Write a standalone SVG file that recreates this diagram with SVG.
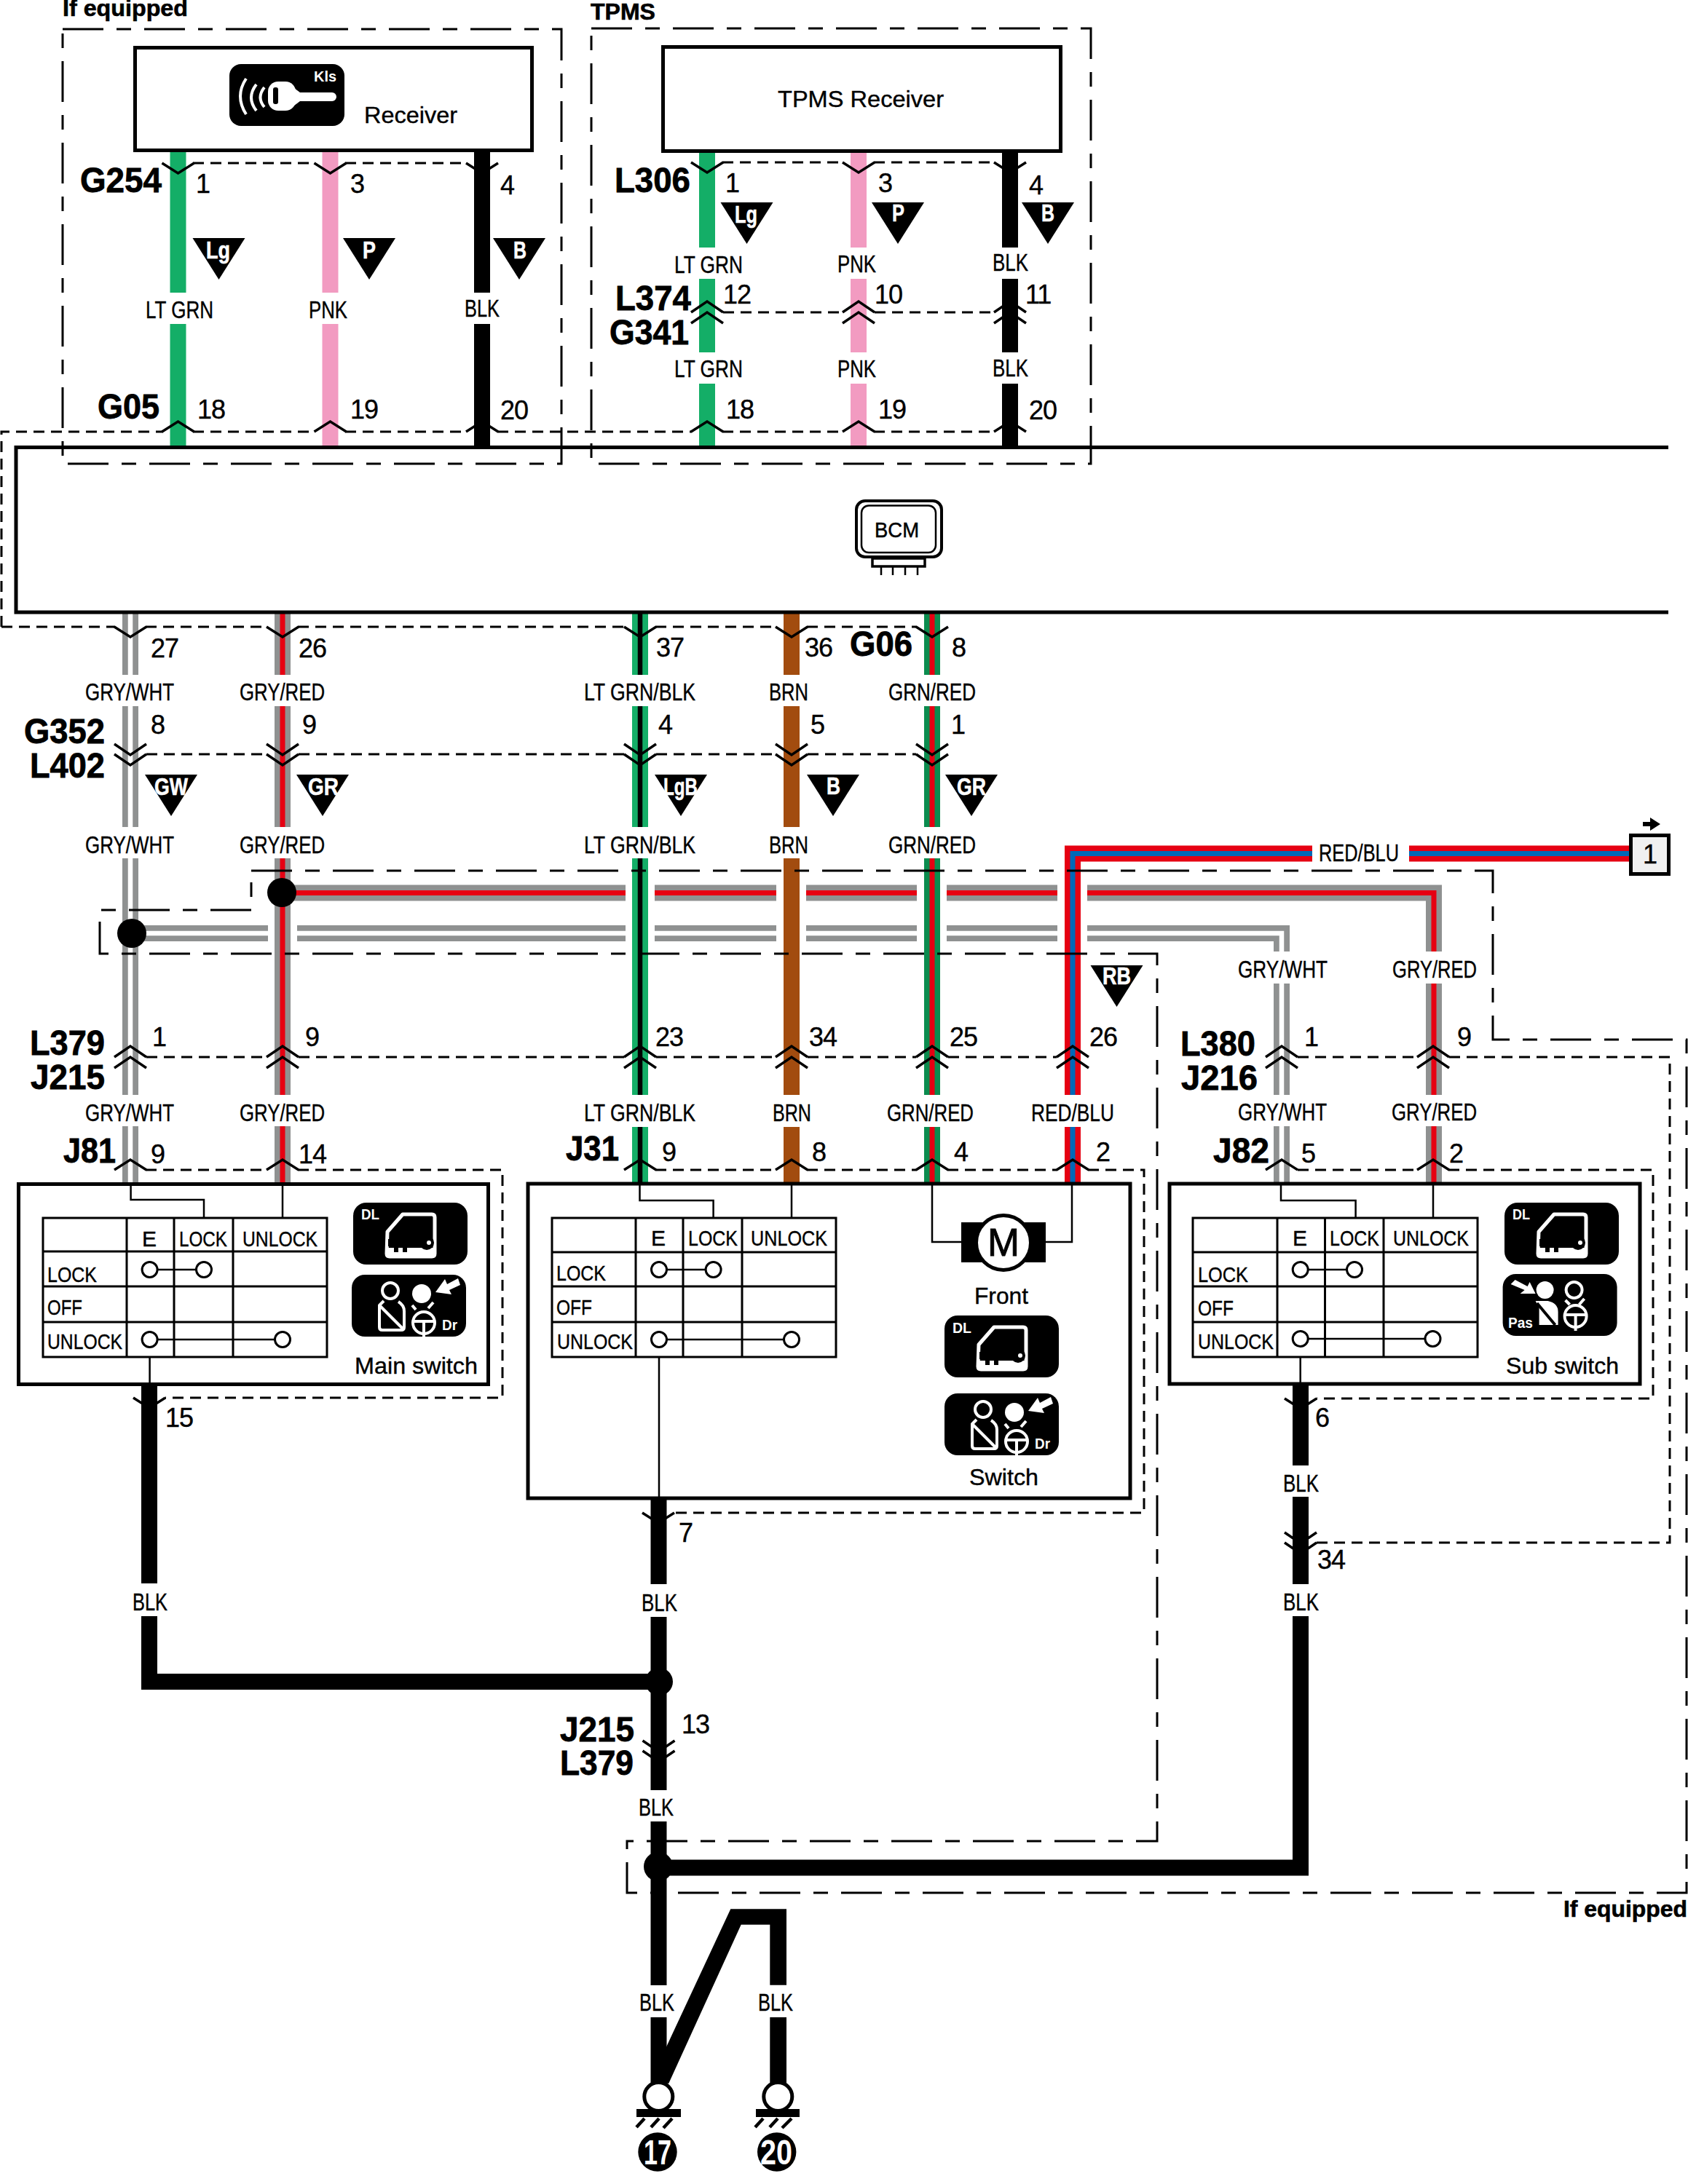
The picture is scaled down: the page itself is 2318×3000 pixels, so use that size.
<svg xmlns="http://www.w3.org/2000/svg" xmlns:xlink="http://www.w3.org/1999/xlink" width="2318" height="3000" viewBox="0 0 2318 3000">
<style>
text{font-family:"Liberation Sans",Arial,sans-serif;fill:#000}
.l{font-size:33px;stroke:#000;stroke-width:.4}
.n{font-size:36px;letter-spacing:-1px;stroke:#000;stroke-width:.4}
.c{font-size:30px;stroke:#000;stroke-width:.4}
.s{font-size:32px;stroke:#000;stroke-width:.4}
.b{font-size:48px;font-weight:700;stroke:#000;stroke-width:.8}
.h{font-size:31px;font-weight:700;stroke:#000;stroke-width:.6}
.w{font-size:34px;font-weight:700;fill:#fff;stroke:#fff;stroke-width:.6}
.i{font-size:20px;font-weight:700;fill:#fff}
.wire{fill:none;stroke-linejoin:miter;stroke-linecap:butt}
.lg{stroke:#14ae67;stroke-width:22}
.pk{stroke:#f29bc1;stroke-width:22}
.bk{stroke:#000;stroke-width:22}
.gy{stroke:#8f9191;stroke-width:22}
.wh{stroke:#fff;stroke-width:6.5}
.rd{stroke:#e60012;stroke-width:7}
.rd2{stroke:#e60012;stroke-width:22}
.bl{stroke:#0068b7;stroke-width:7}
.bn{stroke:#a24c0f;stroke-width:22}
.gn{stroke:#0b8c4f;stroke-width:22}
.k6{stroke:#000;stroke-width:6.5}
.dl{fill:none;stroke:#000;stroke-width:3;stroke-dasharray:15 9}
.db{fill:none;stroke:#000;stroke-width:3;stroke-dasharray:56 18 20 18}
.ch{fill:none;stroke:#000;stroke-width:3.5}
.box{fill:#fff;stroke:#000;stroke-width:5}
.tb{fill:none;stroke:#000;stroke-width:3}
.th{fill:none;stroke:#000;stroke-width:2.5}
.cc{fill:#fff;stroke:#000;stroke-width:3}
.ic{fill:#000}
.wl{fill:none;stroke:#fff;stroke-width:4}
.wf{fill:#fff}
.hb{fill:none;stroke:#000;stroke-width:4.5}
</style>
<defs>
<path id="cu" class="ch" d="M-22 0L0 -14L22 0"/>
<path id="cd" class="ch" d="M-22 0L0 14L22 0"/>
<path id="cuu" class="ch" d="M-22 0L0 -15L22 0M-22 15L0 0L22 15"/>
<path id="cdd" class="ch" d="M-22 -14L0 1L22 -14M-22 0L0 15L22 0"/>
<path id="tri" d="M-36 0H36L0 57Z"/>
<g id="dlicon">
<rect class="ic" width="157" height="85" rx="18"/>
<path class="ic" style="stroke:#fff;stroke-width:5;stroke-linejoin:round" d="M47 40L68 16H108Q112 16 112 20V70Q112 74 108 74H50Q46 74 46 70Z"/>
<rect class="wf" x="46" y="62" width="66" height="11"/>
<path class="ic" d="M48 50H95V60H74V68H68V60H62V68H56V60H48Z"/>
<circle class="ic" cx="101" cy="55" r="10"/>
<circle class="wf" cx="104" cy="55" r="3"/>
</g>
<g id="wheel">
<circle class="wl" r="15"/>
<path class="wl" d="M-14 -2H14M0 -2V20"/>
</g>
<g id="dricon">
<rect class="ic" width="157" height="85" rx="18"/>
<circle class="wl" cx="53" cy="22" r="11"/>
<path class="wl" style="stroke-linejoin:round" d="M44 36L38 42V72Q38 76 42 76H68Q72 76 72 72V50Q72 42 64 37"/>
<path class="wl" d="M38 42L71 75"/>
<circle class="wf" cx="96" cy="26" r="13"/>
<path class="wl" d="M83 42L88 48M112 38L105 46"/>
<use href="#wheel" x="99" y="66"/>
<path class="wf" d="M115 24L128 6L131 13L146 5L149 14L134 21L137 27Z"/>
</g>
<g id="pasicon">
<rect class="ic" width="157" height="85" rx="18"/>
<circle class="wf" cx="58" cy="22" r="12"/>
<path class="wf" d="M45 37H62Q76 40 76 52V70H50V46Z"/>
<path class="ch" style="stroke-width:4" d="M47 40L72 70"/>
<circle class="wl" cx="98" cy="22" r="11"/>
<path class="wl" d="M86 36L92 42M112 34L105 42"/>
<use href="#wheel" x="100" y="58"/>
<path class="wf" d="M11 14L17 8L34 17L37 11L45 27L24 27L30 22Z"/>
</g>
</defs>
<rect width="2318" height="3000" fill="#fff"/>

<g id="connectors">
<g id="wires">
<path class="wire lg" d="M244.5 209V402M244.5 445V612M971 209V340M971 383V484M971 527V612"/>
<path class="wire pk" d="M453.5 209V402M453.5 445V612M1179 209V340M1179 383V484M1179 527V612"/>
<path class="wire bk" d="M662 209V402M662 445V612M1387 209V340M1387 383V484M1387 527V612"/>

<path class="wire gy" id="h-gryred" d="M388 1226.5H859M899 1226.5H1066M1107 1226.5H1259M1300 1226.5H1452M1493 1226.5H1969V1307M1969 1351V1504M1969 1547V1626"/>
<path class="wire rd" d="M388 1226.5H859M899 1226.5H1066M1107 1226.5H1259M1300 1226.5H1452M1493 1226.5H1969V1307M1969 1351V1504M1969 1547V1626"/>
<path class="wire gy" id="h-grywht" d="M179 1282H368M408 1282H859M899 1282H1066M1107 1282H1259M1300 1282H1452M1493 1282H1760V1307M1760 1351V1504M1760 1547V1626"/>
<path class="wire wh" d="M179 1282H368M408 1282H859M899 1282H1066M1107 1282H1259M1300 1282H1452M1493 1282H1760V1307M1760 1351V1504M1760 1547V1626"/>

<path class="wire gy" d="M179 843V927M179 970V1136M179 1179V1504M179 1547V1626"/>
<path class="wire wh" d="M179 843V927M179 970V1136M179 1179V1504M179 1547V1626"/>
<path class="wire gy" d="M388 843V927M388 970V1136M388 1179V1504M388 1547V1626"/>
<path class="wire rd" d="M388 843V927M388 970V1136M388 1179V1504M388 1547V1626"/>
<path class="wire lg" d="M879 843V927M879 970V1136M879 1179V1504M879 1548V1626"/>
<path class="wire k6" d="M879 843V927M879 970V1136M879 1179V1504M879 1548V1626"/>
<path class="wire bn" d="M1087 843V927M1087 970V1136M1087 1179V1504M1087 1548V1626"/>
<path class="wire gn" d="M1280 843V927M1280 970V1136M1280 1179V1504M1280 1548V1626"/>
<path class="wire rd" d="M1280 843V927M1280 970V1136M1280 1179V1504M1280 1548V1626"/>

<path class="wire rd2" d="M2238 1172.5H1935M1802 1172.5H1473V1504M1473 1548V1626"/>
<path class="wire bl" d="M2238 1172.5H1935M1802 1172.5H1473V1504M1473 1548V1626"/>

<circle cx="181" cy="1282" r="20"/>
<circle cx="387" cy="1226" r="20"/>

<path class="wire bk" d="M205 1903V2175M205 2220V2310H905"/>
<path class="wire bk" d="M904.5 2058V2176M904.5 2221V2459M904.5 2502V2727M904.5 2771V2862"/>
<path class="wire bk" d="M1786 1903V2013M1786 2056V2176M1786 2220V2565.5H904"/>
<circle cx="905" cy="2310" r="19"/>
<circle cx="904" cy="2564" r="20"/>
<path d="M1003.3 2622.3H1080V2726.7H1057.3V2643.7H1017.7L918.3 2861.7H915V2811.7Z"/>
<rect x="1057.3" y="2771" width="22.7" height="91"/>
</g>

<g id="connector-lines">
<path class="dl" d="M265 224H433M474 224H641"/>
<path class="dl" d="M992 223H1158M1200 223H1366"/>
<path class="dl" d="M993 429H1157M1201 429H1365"/>
<path class="dl" d="M2 861V593H224M265 593H433M474 593H641M683 593H950M992 593H1158M1200 593H1366"/>
<path class="dl" d="M2 861H158M200 861H367M409 861H858M900 861H1066M1108 861H1259"/>
<path class="dl" d="M201 1036H366M410 1036H857M901 1036H1065M1109 1036H1258"/>
<path class="dl" d="M201 1452H366M410 1452H857M901 1452H1065M1109 1452H1258M1302 1452H1451"/>
<path class="dl" d="M1782 1452H1946M1990 1452H2293V2119H1808"/>
<path class="dl" d="M200 1607H367M409 1607H690V1920H227"/>
<path class="dl" d="M900 1607H1066M1108 1607H1259M1301 1607H1452M1494 1607H1571V2078H926"/>
<path class="dl" d="M1782 1607H1946M1989 1607H2270V1921H1808"/>
</g>
<g id="chevrons">
<use href="#cd" x="244.5" y="224"/><use href="#cd" x="453.5" y="224"/><use href="#cd" x="662" y="224"/>
<use href="#cd" x="971" y="223"/><use href="#cd" x="1179" y="223"/><use href="#cd" x="1387" y="223"/>
<use href="#cuu" x="971" y="429"/><use href="#cuu" x="1179" y="429"/><use href="#cuu" x="1387" y="429"/>
<use href="#cu" x="244.5" y="593"/><use href="#cu" x="453.5" y="593"/><use href="#cu" x="662" y="593"/>
<use href="#cu" x="971" y="593"/><use href="#cu" x="1179" y="593"/><use href="#cu" x="1387" y="593"/>
<use href="#cd" x="179" y="861"/><use href="#cd" x="388" y="861"/><use href="#cd" x="879" y="861"/><use href="#cd" x="1087" y="861"/><use href="#cd" x="1280" y="861"/>
<use href="#cdd" x="179" y="1036"/><use href="#cdd" x="388" y="1036"/><use href="#cdd" x="879" y="1036"/><use href="#cdd" x="1087" y="1036"/><use href="#cdd" x="1280" y="1036"/>
<use href="#cuu" x="179" y="1452"/><use href="#cuu" x="388" y="1452"/><use href="#cuu" x="879" y="1452"/><use href="#cuu" x="1087" y="1452"/><use href="#cuu" x="1280" y="1452"/><use href="#cuu" x="1473" y="1452"/>
<use href="#cuu" x="1760" y="1452"/><use href="#cuu" x="1968" y="1452"/>
<use href="#cu" x="179" y="1607"/><use href="#cu" x="388" y="1607"/>
<use href="#cu" x="879" y="1607"/><use href="#cu" x="1087" y="1607"/><use href="#cu" x="1280" y="1607"/><use href="#cu" x="1473" y="1607"/>
<use href="#cu" x="1760" y="1607"/><use href="#cu" x="1968" y="1607"/>
<use href="#cd" x="205" y="1920"/><use href="#cd" x="904" y="2078"/><use href="#cd" x="1786" y="1921"/>
<use href="#cdd" x="1786" y="2119"/><use href="#cdd" x="904.5" y="2405"/>
</g>
<g id="optional-regions">
<rect class="db" x="86" y="40" width="685" height="597"/>
<rect class="db" x="812" y="39" width="686" height="598"/>
<path class="db" d="M345 1196H2050V1428H2316V2600H861V2529H1589V1310H137V1250H345Z"/>
</g>
<g id="wire-labels">
<text class="l" x="200" y="437" textLength="93" lengthAdjust="spacingAndGlyphs">LT GRN</text>
<text class="l" x="424" y="437" textLength="53" lengthAdjust="spacingAndGlyphs">PNK</text>
<text class="l" x="638" y="435" textLength="48" lengthAdjust="spacingAndGlyphs">BLK</text>
<text class="l" x="926" y="375" textLength="94" lengthAdjust="spacingAndGlyphs">LT GRN</text>
<text class="l" x="1150" y="374" textLength="53" lengthAdjust="spacingAndGlyphs">PNK</text>
<text class="l" x="1363" y="372" textLength="49" lengthAdjust="spacingAndGlyphs">BLK</text>
<text class="l" x="926" y="518" textLength="94" lengthAdjust="spacingAndGlyphs">LT GRN</text>
<text class="l" x="1150" y="518" textLength="53" lengthAdjust="spacingAndGlyphs">PNK</text>
<text class="l" x="1363" y="517" textLength="49" lengthAdjust="spacingAndGlyphs">BLK</text>

<text class="l" x="117" y="962" textLength="122" lengthAdjust="spacingAndGlyphs">GRY/WHT</text>
<text class="l" x="329" y="962" textLength="117" lengthAdjust="spacingAndGlyphs">GRY/RED</text>
<text class="l" x="802" y="962" textLength="153" lengthAdjust="spacingAndGlyphs">LT GRN/BLK</text>
<text class="l" x="1056" y="962" textLength="54" lengthAdjust="spacingAndGlyphs">BRN</text>
<text class="l" x="1220" y="962" textLength="120" lengthAdjust="spacingAndGlyphs">GRN/RED</text>

<text class="l" x="117" y="1172" textLength="122" lengthAdjust="spacingAndGlyphs">GRY/WHT</text>
<text class="l" x="329" y="1172" textLength="117" lengthAdjust="spacingAndGlyphs">GRY/RED</text>
<text class="l" x="802" y="1172" textLength="153" lengthAdjust="spacingAndGlyphs">LT GRN/BLK</text>
<text class="l" x="1056" y="1172" textLength="54" lengthAdjust="spacingAndGlyphs">BRN</text>
<text class="l" x="1220" y="1172" textLength="120" lengthAdjust="spacingAndGlyphs">GRN/RED</text>
<text class="l" x="1811" y="1183" textLength="110" lengthAdjust="spacingAndGlyphs">RED/BLU</text>
<text class="l" x="1700" y="1343" textLength="123" lengthAdjust="spacingAndGlyphs">GRY/WHT</text>
<text class="l" x="1912" y="1343" textLength="116" lengthAdjust="spacingAndGlyphs">GRY/RED</text>

<text class="l" x="117" y="1540" textLength="122" lengthAdjust="spacingAndGlyphs">GRY/WHT</text>
<text class="l" x="329" y="1540" textLength="117" lengthAdjust="spacingAndGlyphs">GRY/RED</text>
<text class="l" x="802" y="1540" textLength="153" lengthAdjust="spacingAndGlyphs">LT GRN/BLK</text>
<text class="l" x="1061" y="1540" textLength="53" lengthAdjust="spacingAndGlyphs">BRN</text>
<text class="l" x="1218" y="1540" textLength="119" lengthAdjust="spacingAndGlyphs">GRN/RED</text>
<text class="l" x="1416" y="1540" textLength="114" lengthAdjust="spacingAndGlyphs">RED/BLU</text>
<text class="l" x="1700" y="1539" textLength="122" lengthAdjust="spacingAndGlyphs">GRY/WHT</text>
<text class="l" x="1911" y="1539" textLength="117" lengthAdjust="spacingAndGlyphs">GRY/RED</text>

<text class="l" x="182" y="2212" textLength="48" lengthAdjust="spacingAndGlyphs">BLK</text>
<text class="l" x="881" y="2213" textLength="49" lengthAdjust="spacingAndGlyphs">BLK</text>
<text class="l" x="877" y="2494" textLength="48" lengthAdjust="spacingAndGlyphs">BLK</text>
<text class="l" x="878" y="2762" textLength="48" lengthAdjust="spacingAndGlyphs">BLK</text>
<text class="l" x="1041" y="2762" textLength="48" lengthAdjust="spacingAndGlyphs">BLK</text>
<text class="l" x="1762" y="2049" textLength="49" lengthAdjust="spacingAndGlyphs">BLK</text>
<text class="l" x="1762" y="2212" textLength="49" lengthAdjust="spacingAndGlyphs">BLK</text>
</g>
<g id="connector-names">
<text class="b" x="110" y="264" textLength="112" lengthAdjust="spacingAndGlyphs">G254</text>
<text class="b" x="134" y="575" textLength="85" lengthAdjust="spacingAndGlyphs">G05</text>
<text class="b" x="844" y="264" textLength="104" lengthAdjust="spacingAndGlyphs">L306</text>
<text class="b" x="845" y="426" textLength="104" lengthAdjust="spacingAndGlyphs">L374</text>
<text class="b" x="837" y="473" textLength="109" lengthAdjust="spacingAndGlyphs">G341</text>
<text class="b" x="33" y="1021" textLength="111" lengthAdjust="spacingAndGlyphs">G352</text>
<text class="b" x="41" y="1068" textLength="103" lengthAdjust="spacingAndGlyphs">L402</text>
<text class="b" x="1167" y="901" textLength="86" lengthAdjust="spacingAndGlyphs">G06</text>
<text class="b" x="41" y="1449" textLength="103" lengthAdjust="spacingAndGlyphs">L379</text>
<text class="b" x="42" y="1496" textLength="102" lengthAdjust="spacingAndGlyphs">J215</text>
<text class="b" x="1621" y="1450" textLength="103" lengthAdjust="spacingAndGlyphs">L380</text>
<text class="b" x="1622" y="1497" textLength="105" lengthAdjust="spacingAndGlyphs">J216</text>
<text class="b" x="87" y="1597" textLength="72" lengthAdjust="spacingAndGlyphs">J81</text>
<text class="b" x="777" y="1594" textLength="73" lengthAdjust="spacingAndGlyphs">J31</text>
<text class="b" x="1666" y="1597" textLength="77" lengthAdjust="spacingAndGlyphs">J82</text>
<text class="b" x="769" y="2392" textLength="102" lengthAdjust="spacingAndGlyphs">J215</text>
<text class="b" x="769" y="2438" textLength="101" lengthAdjust="spacingAndGlyphs">L379</text>
</g>
<g id="pin-numbers">
<text class="n" x="269" y="265">1</text><text class="n" x="481" y="265">3</text><text class="n" x="687" y="267">4</text>
<text class="n" x="271" y="575">18</text><text class="n" x="481" y="575">19</text><text class="n" x="687" y="576">20</text>
<text class="n" x="996" y="264">1</text><text class="n" x="1206" y="264">3</text><text class="n" x="1413" y="267">4</text>
<text class="n" x="993" y="417">12</text><text class="n" x="1201" y="417">10</text><text class="n" x="1408" y="417">11</text>
<text class="n" x="997" y="575">18</text><text class="n" x="1206" y="575">19</text><text class="n" x="1413" y="576">20</text>
<text class="n" x="207" y="903">27</text><text class="n" x="410" y="903">26</text><text class="n" x="901" y="902">37</text><text class="n" x="1105" y="902">36</text><text class="n" x="1307" y="902">8</text>
<text class="n" x="207" y="1008">8</text><text class="n" x="415" y="1008">9</text><text class="n" x="904" y="1008">4</text><text class="n" x="1113" y="1008">5</text><text class="n" x="1306" y="1008">1</text>
<text class="n" x="209" y="1437">1</text><text class="n" x="419" y="1437">9</text><text class="n" x="900" y="1437">23</text><text class="n" x="1111" y="1437">34</text><text class="n" x="1304" y="1437">25</text><text class="n" x="1496" y="1437">26</text><text class="n" x="1791" y="1437">1</text><text class="n" x="2001" y="1437">9</text>
<text class="n" x="207" y="1598">9</text><text class="n" x="410" y="1598">14</text><text class="n" x="909" y="1595">9</text><text class="n" x="1115" y="1595">8</text><text class="n" x="1310" y="1595">4</text><text class="n" x="1505" y="1595">2</text><text class="n" x="1787" y="1597">5</text><text class="n" x="1990" y="1597">2</text>
<text class="n" x="227" y="1960">15</text><text class="n" x="932" y="2118">7</text><text class="n" x="1806" y="1960">6</text><text class="n" x="1809" y="2155">34</text><text class="n" x="936" y="2381">13</text>
</g>
<g id="color-flags">
<use href="#tri" x="300.5" y="327"/><text class="w" x="283" y="355" textLength="33" lengthAdjust="spacingAndGlyphs">Lg</text>
<use href="#tri" x="507" y="327"/><text class="w" x="498" y="355" textLength="18" lengthAdjust="spacingAndGlyphs">P</text>
<use href="#tri" x="713" y="327"/><text class="w" x="705" y="355" textLength="18" lengthAdjust="spacingAndGlyphs">B</text>
<use href="#tri" x="1025.5" y="278"/><text class="w" x="1009" y="306" textLength="31" lengthAdjust="spacingAndGlyphs">Lg</text>
<use href="#tri" x="1233" y="278"/><text class="w" x="1225" y="304" textLength="17" lengthAdjust="spacingAndGlyphs">P</text>
<use href="#tri" x="1439" y="278"/><text class="w" x="1430" y="304" textLength="18" lengthAdjust="spacingAndGlyphs">B</text>
<use href="#tri" x="235" y="1064"/><text class="w" x="212" y="1092" textLength="46" lengthAdjust="spacingAndGlyphs">GW</text>
<use href="#tri" x="443" y="1064"/><text class="w" x="423" y="1092" textLength="42" lengthAdjust="spacingAndGlyphs">GR</text>
<use href="#tri" x="935" y="1064"/><text class="w" x="911" y="1092" textLength="47" lengthAdjust="spacingAndGlyphs">LgB</text>
<use href="#tri" x="1144" y="1064"/><text class="w" x="1135" y="1091" textLength="19" lengthAdjust="spacingAndGlyphs">B</text>
<use href="#tri" x="1334" y="1064"/><text class="w" x="1314" y="1092" textLength="40" lengthAdjust="spacingAndGlyphs">GR</text>
<use href="#tri" x="1533.5" y="1326"/><text class="w" x="1514" y="1352" textLength="39" lengthAdjust="spacingAndGlyphs">RB</text>
</g>
</g>

<text class="h" x="86" y="22" textLength="172" lengthAdjust="spacingAndGlyphs">If equipped</text>
<text class="h" x="811" y="27" textLength="89" lengthAdjust="spacingAndGlyphs">TPMS</text>
<text class="h" x="2147" y="2633" textLength="170" lengthAdjust="spacingAndGlyphs">If equipped</text>

<g id="keyless-receiver">
<rect class="box" x="185.5" y="65.5" width="545" height="141"/>
<rect class="ic" x="315" y="88" width="158" height="85" rx="16"/>
<text class="i" x="431" y="112" textLength="31" lengthAdjust="spacingAndGlyphs">Kls</text>
<path class="wl" d="M338 108Q322 132 338 157M352 116Q338 134 352 152M363 120Q352 134 363 147"/>
<rect class="wf" x="368" y="112" width="38" height="40" rx="14"/>
<path class="wf" d="M400 118L412 127H456A6 6 0 0 1 456 139H412L400 148Z"/>
<rect class="ic" x="375" y="120" width="7" height="23" rx="3"/>
<text class="s" x="500" y="169" textLength="128" lengthAdjust="spacingAndGlyphs">Receiver</text>
</g>

<g id="tpms-receiver">
<rect class="box" x="910.5" y="64.5" width="546" height="143"/>
<text class="s" x="1068" y="147" textLength="228" lengthAdjust="spacingAndGlyphs">TPMS Receiver</text>
</g>

<g id="bcm">
<path class="box" style="fill:none" d="M2291 614.5H22V841H2291"/>
<rect x="1176" y="688" width="117" height="77" rx="12" fill="#fff" stroke="#000" stroke-width="4"/>
<rect x="1183" y="694.5" width="102" height="64.5" rx="10" fill="none" stroke="#000" stroke-width="2.5"/>
<rect x="1198" y="767" width="72" height="11" fill="#fff" stroke="#000" stroke-width="3.5"/>
<path class="th" d="M1210 778V790M1226 778V790M1243 778V790M1260 778V790"/>
<text x="1201" y="738" style="font-size:29px;stroke:#000;stroke-width:.5" textLength="61" lengthAdjust="spacingAndGlyphs">BCM</text>
</g>

<g id="external-1">
<rect x="2239.5" y="1147.5" width="52" height="53" fill="#f0f0f0" stroke="#000" stroke-width="5"/>
<text class="n" x="2256" y="1186">1</text>
<path d="M2256 1129H2266V1123L2280 1132L2266 1141V1135H2256Z"/>
</g>

<g id="J81">
<rect class="box" x="25.5" y="1626.5" width="645" height="275"/>
<path class="th" d="M179.6 1626V1648H280V1672M388 1626V1672M205.6 1864V1903"/>
<path class="tb" d="M59 1673H449V1864H59ZM174 1673V1864M239 1673V1864M320 1673V1864M59 1719H449M59 1767H449M59 1816H449"/>
<path class="th" d="M205.6 1744H280M205.6 1840H388"/>
<circle class="cc" cx="205.6" cy="1744" r="10.5"/><circle class="cc" cx="280" cy="1744" r="10.5"/>
<circle class="cc" cx="205.6" cy="1840" r="10.5"/><circle class="cc" cx="388" cy="1840" r="10.5"/>
<text class="c" x="195" y="1712">E</text>
<text class="c" x="246" y="1712" textLength="66" lengthAdjust="spacingAndGlyphs">LOCK</text>
<text class="c" x="333" y="1712" textLength="103" lengthAdjust="spacingAndGlyphs">UNLOCK</text>
<text class="c" x="65" y="1761" textLength="68" lengthAdjust="spacingAndGlyphs">LOCK</text>
<text class="c" x="65" y="1806" textLength="48" lengthAdjust="spacingAndGlyphs">OFF</text>
<text class="c" x="65" y="1853" textLength="103" lengthAdjust="spacingAndGlyphs">UNLOCK</text>
<use href="#dlicon" x="485" y="1652"/>
<text class="i" x="496" y="1675" textLength="25" lengthAdjust="spacingAndGlyphs">DL</text>
<use href="#dricon" x="483" y="1751"/>
<text class="i" x="607" y="1827" textLength="21" lengthAdjust="spacingAndGlyphs">Dr</text>
<text class="s" x="487" y="1887" textLength="169" lengthAdjust="spacingAndGlyphs">Main switch</text>
</g>

<g id="J31">
<rect class="box" x="725" y="1626" width="827" height="432"/>
<path class="th" d="M878.5 1626V1649H979.6V1672M1087 1626V1672M905 1864V2058"/>
<path class="th" d="M1280 1626V1706H1320M1472 1626V1706H1436"/>
<path class="tb" d="M758 1673H1148V1864H758ZM873 1673V1864M938 1673V1864M1019 1673V1864M758 1720H1148M758 1767H1148M758 1816H1148"/>
<path class="th" d="M905 1744H979.6M905 1840H1087"/>
<circle class="cc" cx="905" cy="1744" r="10.5"/><circle class="cc" cx="979.6" cy="1744" r="10.5"/>
<circle class="cc" cx="905" cy="1840" r="10.5"/><circle class="cc" cx="1087" cy="1840" r="10.5"/>
<text class="c" x="894" y="1711">E</text>
<text class="c" x="945" y="1711" textLength="68" lengthAdjust="spacingAndGlyphs">LOCK</text>
<text class="c" x="1031" y="1711" textLength="105" lengthAdjust="spacingAndGlyphs">UNLOCK</text>
<text class="c" x="764" y="1759" textLength="68" lengthAdjust="spacingAndGlyphs">LOCK</text>
<text class="c" x="764" y="1806" textLength="49" lengthAdjust="spacingAndGlyphs">OFF</text>
<text class="c" x="765" y="1853" textLength="104" lengthAdjust="spacingAndGlyphs">UNLOCK</text>
<rect class="ic" x="1320" y="1679" width="116" height="55"/>
<circle cx="1378" cy="1707" r="37.5" fill="#fff" stroke="#000" stroke-width="5"/>
<text x="1356" y="1725" style="font-size:54px;stroke:#000;stroke-width:1" textLength="44" lengthAdjust="spacingAndGlyphs">M</text>
<text class="s" x="1338" y="1791" textLength="74" lengthAdjust="spacingAndGlyphs">Front</text>
<use href="#dlicon" x="1297" y="1807"/>
<text class="i" x="1308" y="1831" textLength="26" lengthAdjust="spacingAndGlyphs">DL</text>
<use href="#dricon" x="1297" y="1914"/>
<text class="i" x="1421" y="1990" textLength="21" lengthAdjust="spacingAndGlyphs">Dr</text>
<text class="s" x="1331" y="2040" textLength="95" lengthAdjust="spacingAndGlyphs">Switch</text>
</g>

<g id="J82">
<rect class="box" x="1606" y="1626" width="646" height="275"/>
<path class="th" d="M1759 1626V1649H1861.6V1672M1968 1626V1672M1785.7 1864V1903"/>
<path class="tb" d="M1638 1673H2029V1864H1638ZM1754 1673V1864M1819.5 1673V1864M1900 1673V1864M1638 1720H2029M1638 1767H2029M1638 1816H2029"/>
<path class="th" d="M1785.7 1744H1860M1785.7 1839H1967.5"/>
<circle class="cc" cx="1785.7" cy="1744" r="10.5"/><circle class="cc" cx="1860" cy="1744" r="10.5"/>
<circle class="cc" cx="1785.7" cy="1839" r="10.5"/><circle class="cc" cx="1967.5" cy="1839" r="10.5"/>
<text class="c" x="1775" y="1711">E</text>
<text class="c" x="1826" y="1711" textLength="68" lengthAdjust="spacingAndGlyphs">LOCK</text>
<text class="c" x="1913" y="1711" textLength="104" lengthAdjust="spacingAndGlyphs">UNLOCK</text>
<text class="c" x="1645" y="1761" textLength="69" lengthAdjust="spacingAndGlyphs">LOCK</text>
<text class="c" x="1645" y="1807" textLength="49" lengthAdjust="spacingAndGlyphs">OFF</text>
<text class="c" x="1645" y="1853" textLength="104" lengthAdjust="spacingAndGlyphs">UNLOCK</text>
<use href="#dlicon" x="2066" y="1652"/>
<text class="i" x="2077" y="1675" textLength="24" lengthAdjust="spacingAndGlyphs">DL</text>
<use href="#pasicon" x="2063.6" y="1750"/>
<text class="i" x="2071" y="1824" textLength="34" lengthAdjust="spacingAndGlyphs">Pas</text>
<text class="s" x="2068" y="1887" textLength="155" lengthAdjust="spacingAndGlyphs">Sub switch</text>
</g>

<g id="ground-17">
<circle cx="904.3" cy="2880" r="19.5" fill="#fff" stroke="#000" stroke-width="5"/>
<rect x="874" y="2897" width="61" height="11"/>
<path class="hb" d="M874 2922L885 2910M894 2922L905 2910M911 2923L923 2910"/>
<circle cx="903" cy="2956" r="26.7"/>
<text x="884" y="2973" style="font-size:48px;font-weight:700;fill:#fff" textLength="38" lengthAdjust="spacingAndGlyphs">17</text>
</g>
<g id="ground-20">
<circle cx="1068.3" cy="2880" r="19.5" fill="#fff" stroke="#000" stroke-width="5"/>
<rect x="1038" y="2897" width="60" height="11"/>
<path class="hb" d="M1037 2922L1048 2910M1057 2922L1068 2910M1074 2923L1087 2910"/>
<circle cx="1066.7" cy="2956" r="26.7"/>
<text x="1044" y="2973" style="font-size:48px;font-weight:700;fill:#fff" textLength="44" lengthAdjust="spacingAndGlyphs">20</text>
</g>
</svg>
